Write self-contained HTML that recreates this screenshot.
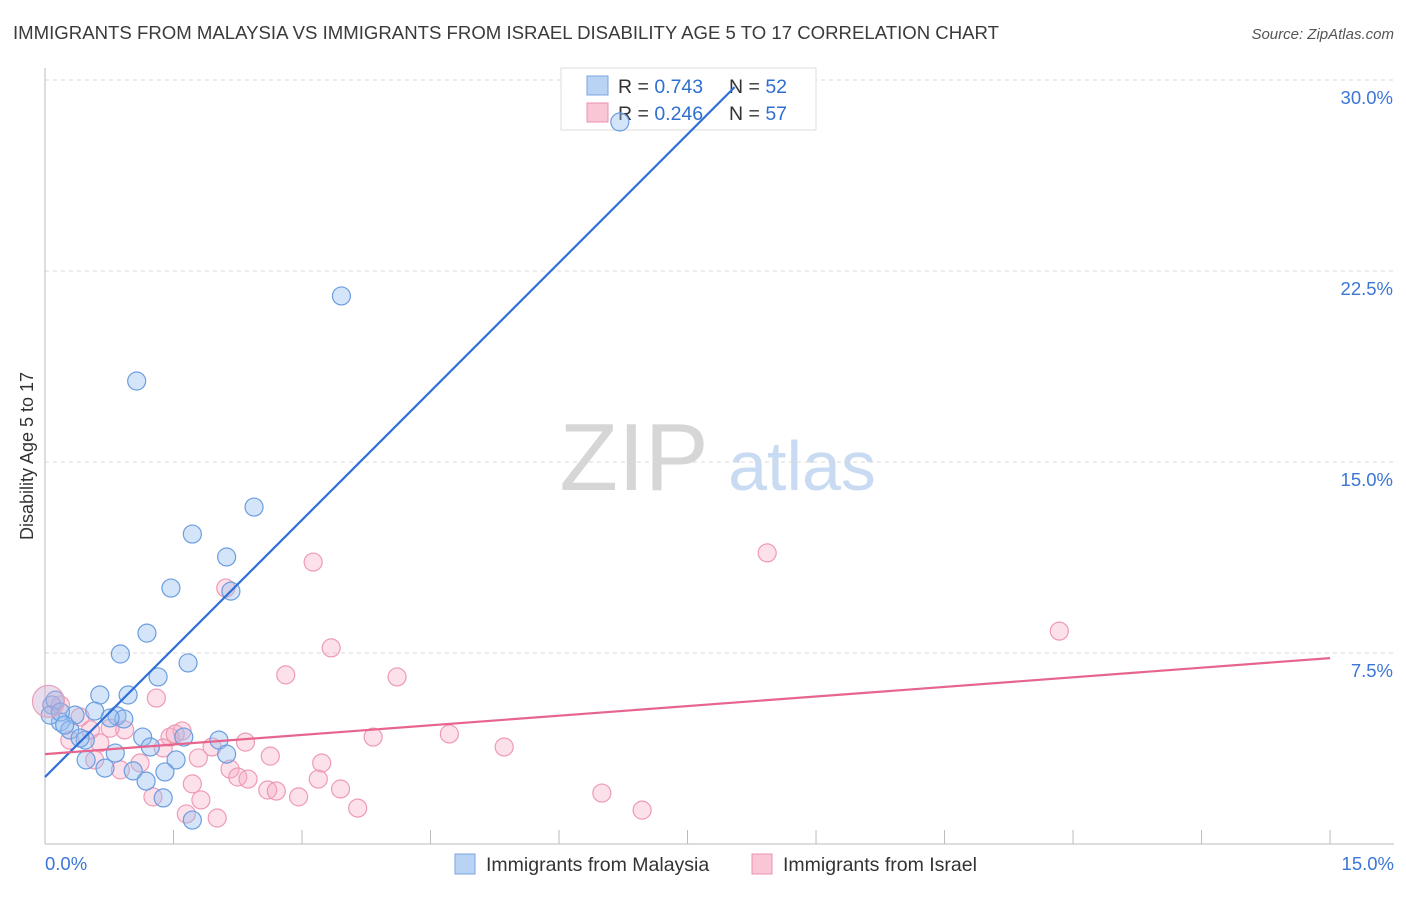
<!DOCTYPE html>
<html><head><meta charset="utf-8"><style>
body{margin:0;background:#fff;font-family:"Liberation Sans",sans-serif}
svg text{font-family:"Liberation Sans",sans-serif}
</style></head><body>
<svg id="chart" width="1406" height="892" xmlns="http://www.w3.org/2000/svg">
<text x="13" y="39" font-size="18.6" fill="#3a3a3a">IMMIGRANTS FROM MALAYSIA VS IMMIGRANTS FROM ISRAEL DISABILITY AGE 5 TO 17 CORRELATION CHART</text>
<text x="1394" y="39" font-size="15" fill="#555" text-anchor="end" font-style="italic">Source: ZipAtlas.com</text>
<g>
<text x="634" y="490" font-size="96" fill="#d6d6d6" text-anchor="middle" font-family="Liberation Serif,serif">ZIP</text>
<text x="802" y="490" font-size="70" fill="#c9dbf2" text-anchor="middle">atlas</text>
</g>
<g id="grid"></g>
<g id="axes"></g>
<g>
<rect x="561" y="68" width="255" height="62" fill="#fff" stroke="#ddd"/>
<rect x="587" y="76" width="21" height="19" fill="#b9d3f5" stroke="#7aa6e0"/>
<rect x="587" y="103" width="21" height="19" fill="#f9c6d5" stroke="#ee8fae"/>
<text x="618" y="93" font-size="19.5" fill="#333">R = <tspan fill="#2f6fd0">0.743</tspan></text>
<text x="729" y="93" font-size="19.5" fill="#333">N = <tspan fill="#2f6fd0">52</tspan></text>
<text x="618" y="120" font-size="19.5" fill="#333">R = <tspan fill="#2f6fd0">0.246</tspan></text>
<text x="729" y="120" font-size="19.5" fill="#333">N = <tspan fill="#2f6fd0">57</tspan></text>
</g>
<g id="marks"></g>
<text transform="translate(33,456) rotate(-90)" font-size="18" fill="#333" text-anchor="middle">Disability Age 5 to 17</text>
<g>
<rect x="455" y="854" width="20" height="20" fill="#b9d3f5" stroke="#7aa6e0"/>
<text x="486" y="871" font-size="19.5" fill="#333">Immigrants from Malaysia</text>
<rect x="752" y="854" width="20" height="20" fill="#f9c6d5" stroke="#ee8fae"/>
<text x="783" y="871" font-size="19.5" fill="#333">Immigrants from Israel</text>
</g>
</svg>
<script>
const yTicks=[7.5,15,22.5,30];
const yTickLabels=["7.5%","15.0%","22.5%","30.0%"];
const xTickValues=[0,1.5,3,4.5,6,7.5,9,10.5,12,13.5,15];
const malaysiaX=[6.71,3.46,1.07,2.44,1.72,2.12,1.47,2.17,1.19,0.88,1.67,1.32,0.64,0.97,0.58,0.35,0.08,0.84,0.92,0.76,0.18,0.29,0.47,1.14,1.62,2.03,0.41,1.23,0.82,0.48,1.53,2.12,0.70,1.03,1.40,1.18,1.38,1.72,0.12,0.06,0.18,0.23];
const malaysiaY=[28.35,21.52,18.18,13.23,12.17,11.27,10.05,9.93,8.28,7.46,7.11,6.56,5.85,5.85,5.22,5.06,5.46,5.03,4.91,4.95,4.79,4.48,4.08,4.2,4.2,4.08,4.16,3.81,3.57,3.3,3.3,3.53,2.98,2.87,2.83,2.47,1.81,0.94,5.65,5.06,5.18,4.67];
const israelX=[8.43,11.84,3.13,2.11,3.34,2.81,4.11,1.30,4.72,5.36,3.83,2.34,1.60,1.46,1.38,1.95,2.63,3.23,1.79,2.16,2.25,2.37,3.19,2.60,2.70,3.45,2.96,3.65,6.50,6.97,1.26,1.82,1.65,2.01,1.72,0.93,0.76,0.53,0.29,0.58,0.88,1.11,0.64,0.41,0.18,1.52];
const israelY=[11.43,8.36,11.07,10.05,7.70,6.64,6.56,5.73,4.32,3.81,4.2,4.0,4.44,4.2,3.77,3.81,3.45,3.18,3.38,2.94,2.63,2.55,2.55,2.12,2.08,2.16,1.85,1.41,2.0,1.33,1.85,1.73,1.18,1.02,2.36,4.48,4.55,4.48,4.08,3.3,2.91,3.18,3.97,4.99,5.46,4.32];
const malaysiaTrend=[2.63,29.72];const malaysiaTrendX=[0,8.05];
const israelTrend=[3.53,7.30];const israelTrendX=[0,15];
const X=v=>45+v*85.67, Y=v=>844-v*25.467;
const NS="http://www.w3.org/2000/svg";
function mk(p,t,a){const e=document.createElementNS(NS,t);for(const k in a)e.setAttribute(k,a[k]);p.appendChild(e);return e;}
const grid=document.getElementById('grid'),axes=document.getElementById('axes'),marks=document.getElementById('marks');
yTicks.forEach((v,i)=>{
 const l=mk(grid,'line',{x1:45,x2:1394,y1:Y(v),y2:Y(v),stroke:'#d8d8d8','stroke-dasharray':'4,4'});
 
 
 const t=mk(axes,'text',{x:1393,y:Y(v)+24,'font-size':18.5,fill:'#3b76d6','text-anchor':'end'});t.textContent=yTickLabels[i];
 
 
});
const ya=mk(axes,'line',{x1:45,x2:45,y1:68,y2:844,stroke:'#bbb'});


const xa=mk(axes,'line',{x1:45,x2:1394,y1:844,y2:844,stroke:'#bbb'});


xTickValues.forEach(v=>{const t=mk(axes,'line',{x1:X(v),x2:X(v),y1:830,y2:844,stroke:'#bbb'});
 
 });
[[0,'0.0%',45,'start'],[15,'15.0%',1394,'end']].forEach(d=>{const t=mk(axes,'text',{x:d[2],y:870,'font-size':18.5,fill:'#3b76d6','text-anchor':d[3]});t.textContent=d[1];
 
 });
israelX.forEach((x,i)=>{const c=mk(marks,'circle',{cx:X(x),cy:Y(israelY[i]),r:9,fill:'rgba(246,170,195,0.35)',stroke:'#ee9ab5','stroke-width':1.2});
 
 });
malaysiaX.forEach((x,i)=>{const c=mk(marks,'circle',{cx:X(x),cy:Y(malaysiaY[i]),r:9,fill:'rgba(150,190,240,0.4)',stroke:'#6b9de0','stroke-width':1.2});
 
 });
const big=mk(marks,'circle',{cx:X(0.04),cy:Y(5.6),r:16,fill:'rgba(200,170,210,0.4)',stroke:'#e9a0bb','stroke-width':1.2});


const bl=mk(marks,'line',{x1:X(malaysiaTrendX[0]),y1:Y(malaysiaTrend[0]),x2:X(malaysiaTrendX[1]),y2:Y(malaysiaTrend[1]),stroke:'#2f6fd6','stroke-width':2.2});


const pl=mk(marks,'line',{x1:X(israelTrendX[0]),y1:Y(israelTrend[0]),x2:X(israelTrendX[1]),y2:Y(israelTrend[1]),stroke:'#e7648d','stroke-width':2.2});


</script>
</body></html>
